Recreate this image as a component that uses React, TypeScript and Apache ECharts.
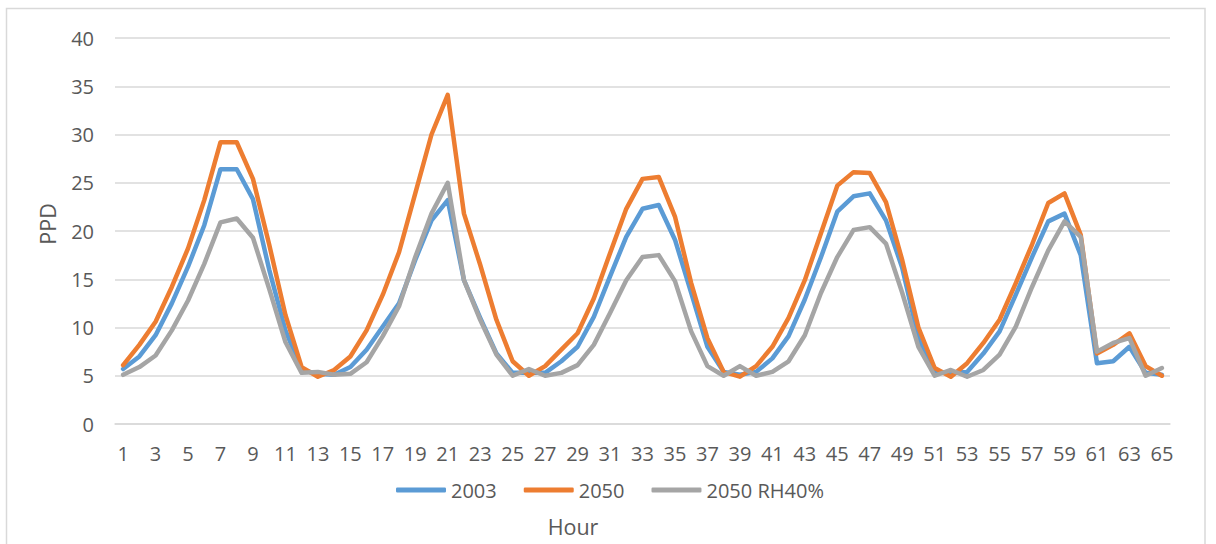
import React, { useEffect, useRef } from "react";
import * as echarts from "echarts";

const hours: string[] = Array.from({ length: 65 }, (_, i) => String(i + 1));

const s2003: number[] = [
  5.7, 7.0, 9.2, 12.5, 16.3, 20.6, 26.4, 26.4, 23.3, 16.0,
  9.7, 5.6, 5.2, 5.1, 5.9, 7.7, 10.1, 12.5, 17.0, 21.1,
  23.2, 14.9, 11.0, 7.3, 5.3, 5.3, 5.3, 6.5, 8.0, 11.1,
  15.3, 19.4, 22.3, 22.7, 19.1, 13.6, 8.0, 5.4, 5.1, 5.4,
  6.8, 9.1, 12.9, 17.3, 22.0, 23.6, 23.9, 21.1, 16.2, 8.9,
  5.3, 5.3, 5.4, 7.3, 9.6, 13.4, 17.3, 21.0, 21.8, 17.5,
  6.3, 6.5, 8.0, 5.3, 5.1,
];

const s2050: number[] = [
  6.1, 8.2, 10.6, 14.2, 18.2, 23.2, 29.2, 29.2, 25.4, 18.6,
  11.3, 5.9, 4.9, 5.6, 7.0, 9.7, 13.4, 17.8, 23.9, 30.0,
  34.1, 21.8, 16.5, 10.8, 6.5, 5.0, 6.0, 7.7, 9.4, 13.0,
  17.7, 22.3, 25.4, 25.6, 21.5, 14.6, 8.9, 5.4, 4.9, 6.0,
  8.0, 11.0, 14.9, 19.8, 24.7, 26.1, 26.0, 23.0, 17.0, 10.0,
  5.8, 4.9, 6.3, 8.4, 10.8, 14.6, 18.6, 22.9, 23.9, 19.6,
  7.3, 8.2, 9.4, 6.0, 5.0,
];

const s2050rh40: number[] = [
  5.1, 5.9, 7.1, 9.7, 12.8, 16.6, 20.9, 21.3, 19.3, 14.0,
  8.5, 5.3, 5.4, 5.1, 5.2, 6.4, 9.1, 12.2, 17.3, 21.8,
  25.0, 14.9, 10.8, 7.2, 5.0, 5.7, 5.0, 5.3, 6.1, 8.2,
  11.5, 14.9, 17.3, 17.5, 14.8, 9.6, 6.0, 5.0, 6.0, 5.0,
  5.4, 6.5, 9.2, 13.6, 17.3, 20.1, 20.4, 18.7, 13.6, 8.0,
  5.0, 5.6, 4.9, 5.6, 7.2, 10.1, 14.2, 18.0, 21.0, 19.4,
  7.5, 8.4, 8.9, 5.0, 5.8,
];

const seriesNames: string[] = ["2003", "2050", "2050 RH40%"];
const seriesColors: string[] = ["#5B9BD5", "#ED7D31", "#A5A5A5"];
const xTitle = "Hour";
const yTitle = "PPD";

const FONT = "Open Sans";
const TEXT = "#595959";

export default function App() {
  const ref = useRef<HTMLDivElement>(null);
  useEffect(() => {
    if (!ref.current) return;
    const chart = echarts.init(ref.current, null, { renderer: "svg" });
    const data = [s2003, s2050, s2050rh40];
    chart.setOption({
      animation: false,
      backgroundColor: "#ffffff",
      textStyle: { fontFamily: FONT, color: TEXT },
      graphic: [
        {
          type: "rect",
          shape: { x: 6.5, y: 8.5, width: 1198.5, height: 600 },
          style: { fill: "none", stroke: "#d9d9d9", lineWidth: 1.5 },
          silent: true,
        },
        {
          type: "text",
          x: 573,
          y: 526,
          style: {
            text: xTitle,
            fontFamily: FONT,
            fontSize: 21.5,
            fill: TEXT,
            align: "center",
            verticalAlign: "middle",
          },
          silent: true,
        },
        {
          type: "text",
          x: 47,
          y: 224,
          rotation: Math.PI / 2,
          style: {
            text: yTitle,
            fontFamily: FONT,
            fontSize: 21.5,
            fill: TEXT,
            align: "center",
            verticalAlign: "middle",
          },
          silent: true,
        },
      ],
      grid: { left: 115, right: 46, top: 38, bottom: 120, containLabel: false },
      legend: {
        data: seriesNames,
        left: 391,
        top: 475,
        icon: "roundRect",
        itemWidth: 50,
        itemHeight: 5,
        itemGap: 27,
        textStyle: { fontFamily: FONT, fontSize: 20, color: TEXT },
      },
      xAxis: {
        type: "category",
        data: hours,
        boundaryGap: true,
        axisLine: { show: true, lineStyle: { color: "#d9d9d9", width: 1.5 } },
        axisTick: { show: false },
        axisLabel: { interval: 1, margin: 19, fontFamily: FONT, fontSize: 20, color: TEXT },
        splitLine: { show: false },
      },
      yAxis: {
        type: "value",
        min: 0,
        max: 40,
        interval: 5,
        axisLine: { show: false },
        axisTick: { show: false },
        axisLabel: { margin: 21, fontFamily: FONT, fontSize: 20, color: TEXT },
        splitLine: { show: true, lineStyle: { color: "#d9d9d9", width: 1.5 } },
      },
      series: seriesNames.map((name, k) => ({
        name,
        type: "line",
        data: data[k],
        symbol: "none",
        smooth: false,
        itemStyle: { color: seriesColors[k] },
        lineStyle: { color: seriesColors[k], width: 4.5, cap: "round", join: "round" },
        z: 2 + k,
      })),
    });
    return () => chart.dispose();
  }, []);
  return (
    <div
      ref={ref}
      style={{ position: "fixed", left: 0, top: 0, width: 1216, height: 544 }}
    />
  );
}
